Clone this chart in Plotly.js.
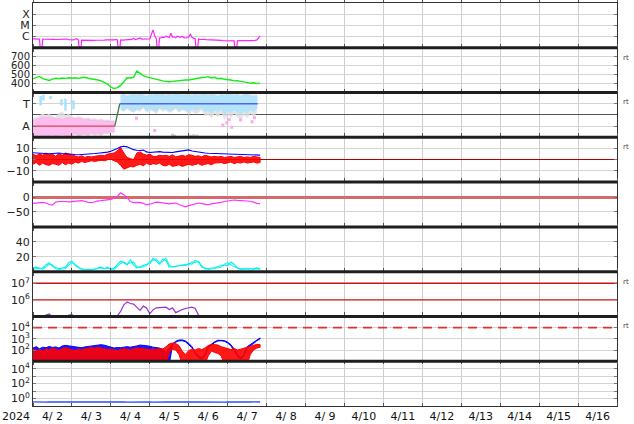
<!DOCTYPE html>
<html><head><meta charset="utf-8">
<script src="https://cdn.plot.ly/plotly-3.0.1.min.js"></script>
<style>html,body{margin:0;padding:0;background:#fff}#chart{width:634px;height:424px}</style>
</head><body><div id="chart"></div>
<script>
// ---------- time helpers (hours since 2024-04-02 00:00 UT) ----------
const START = Date.UTC(2024, 3, 2);
function t(h){ return new Date(START + h*3600000).toISOString().slice(0,19).replace('T',' '); }
const HOURS_1H = Array.from({length:141}, (_, i) => i);        // hourly grid 0..140 h
const HOURS_2H = Array.from({length:71}, (_, i) => 2*i);       // 2-hour grid 0..140 h

// ---------- panel 1: X-ray flux (W/m2), hourly ----------
const xrayFlux = [
 6.2e-7,6.0e-7,6.3e-7,6.1e-7,6.0e-7,1e-8,5.9e-7,5.8e-7,5.9e-7,5.7e-7,
 5.8e-7,5.6e-7,5.7e-7,5.6e-7,5.5e-7,5.6e-7,5.4e-7,5.5e-7,5.3e-7,5.4e-7,
 5.3e-7,6.0e-7,5.2e-7,5.1e-7,5.2e-7,5.0e-7,5.8e-7,6.5e-7,5.0e-7,1e-8,
 4.8e-7,4.7e-7,4.8e-7,4.6e-7,4.7e-7,4.6e-7,4.7e-7,4.5e-7,4.6e-7,4.7e-7,
 4.6e-7,4.8e-7,4.7e-7,4.9e-7,4.8e-7,5.0e-7,4.9e-7,5.1e-7,5.0e-7,5.2e-7,
 5.1e-7,5.3e-7,5.2e-7,1e-8,5.0e-7,4.9e-7,5.1e-7,5.0e-7,5.4e-7,5.8e-7,
 5.2e-7,5.6e-7,7.0e-7,5.5e-7,6.0e-7,6.8e-7,7.5e-7,6.0e-7,6.2e-7,5.9e-7,
 6.1e-7,6.0e-7,6.3e-7,1.6e-6,4.0e-6,1.2e-6,7.0e-7,1e-8,7.5e-7,8.0e-7,
 9.0e-7,8.5e-7,1.1e-6,9.5e-7,8.5e-7,2.0e-6,9.0e-7,9.5e-7,8.0e-7,1.1e-6,
 9.0e-7,8.5e-7,1.05e-6,8.0e-7,7.5e-7,8.0e-7,9.0e-7,1.7e-6,8.5e-7,7.0e-7,
 6.5e-7,1e-8,6.0e-7,5.5e-7,5.8e-7,5.4e-7,5.6e-7,5.2e-7,5.5e-7,5.0e-7,
 5.0e-7,4.8e-7,4.7e-7,4.6e-7,4.6e-7,4.5e-7,4.5e-7,4.4e-7,4.4e-7,4.3e-7,
 4.3e-7,4.4e-7,4.3e-7,4.3e-7,4.2e-7,1e-8,4.2e-7,4.3e-7,4.2e-7,4.3e-7,
 4.3e-7,4.2e-7,4.4e-7,4.3e-7,4.4e-7,4.3e-7,4.5e-7,4.6e-7,5.0e-7,7.0e-7,
 1.1e-6];
const xrayTickVals = [1e-6, 1e-5, 1e-4];
const xrayTickText = ['C', 'M', 'X'];

// ---------- panel 2: solar wind speed (km/s), 2-hourly ----------
const windSpeed = [
 455,470,480,455,445,435,450,460,455,462,
 458,465,460,465,458,462,470,460,455,445,
 440,430,410,395,360,345,355,380,420,465,
 462,470,540,510,490,475,465,462,450,440,
 430,425,420,425,430,428,435,440,440,448,
 455,460,468,470,478,462,470,455,460,448,
 445,440,430,432,425,420,412,405,410,400,405];
const speedTickVals = [400, 500, 600, 700];

// ---------- panel 3: IMF sector (A = -1, T = +1) ----------
const sectorHours = [0, 50.4, 53.5, 138.5];
const sectorPolarity = [-1, -1, 1, 1];
const sectorTickVals = [-1, 1];
const sectorTickText = ['A', 'T'];
const earlyHours = HOURS_2H.slice(0, 26);   // 0..50 h
const pinkHi = [-0.5,-0.4,-0.3,-0.2,-0.25,-0.2,-0.3,-0.35,-0.3,-0.4,
 -0.3,-0.25,-0.3,-0.35,-0.3,-0.4,-0.45,-0.4,-0.5,-0.45,-0.55,-0.5,-0.6,-0.55,-0.65,-0.6];
const pinkLo = [-1.8,-1.9,-1.7,-1.85,-1.95,-1.8,-1.75,-1.9,-1.8,-1.7,
 -1.85,-1.9,-1.75,-1.6,-1.8,-1.7,-1.65,-1.8,-1.55,-1.7,-1.6,-1.75,-1.5,-1.6,-1.45,-1.5];
const grayEarlyHi = [-0.3,-0.2,0.0,0.1,0.0,0.1,-0.1,-0.15,0.2,0.3,
 0.0,0.1,-0.1,-0.2,-0.1,-0.2,-0.3,-0.2,-0.35,-0.3,-0.4,-0.3,-0.45,-0.4,-0.5,-0.45];
const grayEarlyLo = [-1.95,-2.0,-1.9,-1.95,-2.0,-1.95,-1.9,-2.0,-1.95,-1.85,
 -1.95,-2.0,-1.9,-1.8,-1.9,-1.85,-1.8,-1.9,-1.75,-1.85,-1.8,-1.9,-1.7,-1.75,-1.6,-1.65];
const lateHours = HOURS_2H.slice(27, 70);   // 54..138 h
const skyHi = [1.7,1.8,1.6,1.75,1.8,1.7,1.85,1.75,1.6,1.8,
 1.7,1.85,1.75,1.8,1.65,1.8,1.7,1.85,1.8,1.7,
 1.75,1.8,1.65,1.8,1.7,1.75,1.85,1.7,1.8,1.75,
 1.6,1.8,1.7,1.85,1.75,1.7,1.8,1.65,1.75,1.8,1.7,1.6,1.7];
const skyLo = [0.6,0.4,0.7,0.5,0.3,0.6,0.5,0.8,0.4,0.6,
 0.5,0.3,0.7,0.5,0.6,0.4,0.5,0.7,0.4,0.6,
 0.5,0.3,0.6,0.4,0.5,0.7,0.3,0.4,0.2,0.5,
 0.3,0.6,0.1,0.4,0.2,0.5,0.3,0.1,0.4,0.2,0.5,0.3,0.6];
const grayLateHi = [1.85,1.9,1.8,1.85,1.9,1.85,1.95,1.9,1.8,1.9,
 1.85,1.95,1.9,1.9,1.85,1.95,1.9,1.95,1.9,1.85,
 1.9,1.95,1.85,1.9,1.85,1.9,1.95,1.85,1.9,1.9,
 1.8,1.9,1.85,1.95,1.9,1.85,1.9,1.8,1.9,1.95,1.85,1.8,1.85];
const grayLateLo = [0.4,0.3,0.5,0.3,0.2,0.4,0.3,0.6,0.2,0.4,
 0.3,0.1,0.5,0.3,0.4,0.2,0.3,0.5,0.2,0.4,
 0.3,0.0,0.3,0.1,0.2,0.4,-0.1,0.0,-0.3,0.1,
 -0.2,0.2,-0.4,0.0,-0.3,0.1,-0.2,-0.5,0.0,-0.3,0.1,-0.2,0.2];
const skySpotHours = [4.7, 6.4, 10.8, 17.5, 20, 23.8, 25];
const skySpotLo = [0.85, 1.3, 1.4, 0.85, 0.4, 1.0, 0.5];
const skySpotHi = [1.7, 1.8, 1.7, 1.4, 1.45, 1.3, 1.3];
const pinkDotHours = [63.8, 75, 87.3, 117, 119.5, 121, 122.5, 128, 135, 136.5];
const pinkDotValues = [-0.3, -1.4, -1.9, -0.9, -0.7, -0.4, -1.1, -0.45, -0.6, -0.25];
const grayDotHours = [86, 97, 99, 101];
const grayDotValues = [-1.8, -1.9, -1.85, -1.9];

// ---------- panel 4: IMF Bt and Bz (nT), 2-hourly ----------
const imfBt = [
 6.2,6,5.5,5.2,5,5.3,5.5,5.8,6,5.6,
 5.2,5,4.8,4.6,4.5,4.6,4.8,5,5.2,5.5,
 5.8,6,6.2,6.8,7.5,8.5,10,11.5,12,11.5,
 10,9,8.5,8.2,8.6,7,6.5,6.8,7,7.2,
 6.8,6.5,6.2,6.5,7,7.5,8,8.4,8.8,7.8,
 7.2,6.8,6.2,6,5.8,5.7,5.5,5.4,5.3,5.1,
 5,4.9,4.8,4.8,4.6,4.5,4.4,4.3,4.2,4.1,4.1];
const imfBzHi = [5,3.5,5.5,4,6,4.5,5,3,5.5,4,6,5,4.5, 3,2.5,3.5,2,3,2.5,3, 3.5,4,3.5,5,5.5,6,
 8,11,6,2,1,0, 6,7,5,4,5,3, 3,4,3.5, 4,3,4.5,2.5,3.5,4,3,4.5, 4,3,3.5,2.5,4,3,2.5,3,
 2.5,3,2,2.5,3,2,2.5,3,2,2.5,2,3,2.5,2];
const imfBzLo = [-4,-2.5,-5,-3,-4.5,-5,-3.5,-4,-5,-2.5,-4.5,-3,-4, -2,-3,-1.5,-2.5,-2,-1,-1.5, -1,-0.5,-1,0,0.5,-1,
 -2,-5,-8.5,-7,-6,-6.5, -5,-4,-5.5,-3,-4.5,-3.5, -4,-3,-5, -5.5,-4,-6,-5,-4.5,-6,-5,-4, -5,-4.5,-3.5,-5,-4,-3.5,-4.5,-3,
 -3,-2.5,-3.5,-3,-2,-3.5,-2.5,-3,-2,-3,-2.5,-2,-3,-2.5];
const imfTickVals = [-10, 0, 10];
const imfTickText = ['\u221210', '0', '10'];

// ---------- panel 5: Dst (nT), 2-hourly ----------
const dstIndex = [
 -21,-20,-19,-18,-20,-25,-27,-17,-15,-14,
 -15,-16,-15,-14,-13,-12,-14,-18,-19,-15,
 -13,-12,-11,-9,-8,-4,2,14,8,-2,
 -15,-19,-18,-18,-21,-26,-24,-20,-17,-18,
 -19,-22,-23,-21,-20,-25,-30,-33,-29,-26,
 -24,-20,-22,-25,-26,-23,-22,-20,-18,-15,
 -13,-11,-10,-11,-12,-13,-12,-14,-17,-21,-22];
const dstTickVals = [-50, 0];
const dstTickText = ['\u221250', '0'];

// ---------- panel 6: two cyan series, 2-hourly ----------
const cyanA = [
 5,6,4,5,9,12,7,5,4,5,
 6,12,14,8,5,3,2,3,2,4,
 5,6,4,6,3,5,10,14,12,9,
 16,9,5,7,8,10,11,18,14,10,
 17,15,6,7,8,9,9,8,11,10,
 15,13,6,5,4,5,5,7,8,9,
 8,13,10,5,4,4,3,3,4,5,4];
const cyanB = [
 3,4,5,3,6,10,9,4,3,4,
 4,9,12,10,6,4,3,2,3,3,
 4,5,5,4,4,3,7,11,13,10,
 12,13,7,5,7,8,13,15,17,12,
 14,18,9,6,7,7,8,10,9,13,
 12,14,8,4,3,4,4,5,6,10,
 12,9,7,4,3,3,4,2,3,4,3];
const cyanTickVals = [20, 40];

// ---------- panel 7: electron flux, 2-hourly ----------
const electronFlux = [
 9e4,8e4,9e4,9.5e4,1.2e5,1.4e5,9e4,8e4,1.15e5,9e4,
 8e4,1.2e5,1.3e5,9e4,8e4,1.1e5,9e4,8e4,9e4,1.1e5,
 9e4,8e4,8e4,9e4,8e4,9e4,1.1e5,2.0e5,5.0e5,7.5e5,
 6.0e5,5.5e5,3.6e5,2.3e5,4.2e5,3.3e5,1.45e5,2.5e5,3.3e5,3.4e5,
 3.5e5,3.6e5,2.6e5,3.3e5,1.7e5,2.2e5,2.6e5,3.0e5,3.3e5,3.6e5,
 3.0e5,1.2e5,9e4,9e4,8e4,8e4,1.0e5,9e4,8e4,8e4,
 9e4,1.05e5,8e4,8e4,9e4,1.0e5,8e4,8e4,9e4,1.05e5,8e4];
const electronThresholds = [1e6, 1e7];

// ---------- panel 8: two noisy flux series (hi/lo envelopes), 2-hourly ----------
const blueFluxHi = [150,200,130,180,160,210,170,190,150,230, 260,240,200,180,170,160,190,210,230,250,
 280,300,270,230,180,150,170,160,180,200, 180,190,230,280,260,250,220,180,170,150,
 120,60,150,350,600,780,800,650,400,200, 60,30,20,40,200,350,550,750,780,700,
 500,300,120,40,20,40,200,300,450,800,1200];
const blueFluxLo = [5,5,5,5,5,5,5,5,5,5, 5,5,5,5,5,5,5,5,5,5,
 5,5,5,5,5,5,5,5,5,5, 5,5,5,5,5,5,5,5,5,5,
 5,5,5,290,510,660,680,540,320,160, 45,22,15,30,160,290,460,640,680,600,
 420,240,90,30,15,30,160,250,380,680,1000];
const redFluxHi = [120,90,110,80,130,100,150,120,90,140, 160,130,110,90,120,100,130,150,170,140,
 180,150,130,110,120,100,90,110,130,120, 100,140,160,130,150,120,100,130,110,140,
 120,200,350,420,380,250,80,40,90,120, 100,140,110,150,250,320,300,280,200,160,
 130,110,140,100,120,150,180,220,280,320,300];
const redFluxLo = [5,5,5,5,5,5,5,5,5,5, 5,5,5,5,5,5,5,5,5,5,
 5,5,5,5,5,5,5,5,5,5, 5,5,5,5,5,5,5,5,5,5,
 5,5,60,120,100,40,5,3,5,5, 5,5,5,5,30,80,60,50,30,5,
 5,5,5,5,5,5,5,40,100,150,180];
const protonThreshold = [1e4];

// ---------- panel 9: low flux series, 2-hourly ----------
const lowFlux = [0.36,0.34,0.35,0.37,0.33,0.35,0.36,0.34,0.35,0.33, 0.34,0.36,0.35,0.34,0.33,0.35,0.36,0.34,0.35,0.33,
 0.34,0.35,0.36,0.34,0.33,0.35,0.34,0.36,0.35,0.33, 0.34,0.35,0.33,0.34,0.36,0.35,0.34,0.33,0.35,0.34,
 0.36,0.35,0.34,0.33,0.35,0.34,0.36,0.35,0.33,0.34, 0.35,0.34,0.36,0.35,0.33,0.34,0.35,0.36,0.34,0.33,
 0.35,0.34,0.36,0.35,0.34,0.33,0.35,0.34,0.36,0.35,0.34];

const sup = n => '10<sup>' + n + '</sup>';

// ---------- build traces ----------
const FULL = [t(0), t(360)];
function line(hours, vals, ya, color, width){
  return {x: hours.map(t), y: vals, xaxis:'x', yaxis: ya, mode:'lines',
          line:{color: color, width: width || 1.2}, hoverinfo:'skip', showlegend:false};
}
// filled envelope between hi and lo, edged with the series colour
function band(hours, hi, lo, ya, fill, edge){
  return {x: hours.concat(hours.slice().reverse()).map(t), y: hi.concat(lo.slice().reverse()),
          xaxis:'x', yaxis: ya, mode:'lines', fill:'toself', fillcolor: fill,
          line:{color: edge || 'rgba(0,0,0,0)', width: edge ? 1 : 0}, hoverinfo:'skip', showlegend:false};
}
function segments(hours, lo, hi, ya, color, width){
  const xs = [], ys = [];
  hours.forEach((h, i) => { xs.push(t(h), t(h), null); ys.push(lo[i], hi[i], null); });
  return {x: xs, y: ys, xaxis:'x', yaxis: ya, mode:'lines', line:{color: color, width: width},
          hoverinfo:'skip', showlegend:false};
}
function level(v, ya, color, width, dash){
  return {x: FULL, y: [v, v], xaxis:'x', yaxis: ya, mode:'lines',
          line:{color: color, width: width, dash: dash || 'solid'}, hoverinfo:'skip', showlegend:false};
}

const traces = [
  line(HOURS_1H, xrayFlux, 'y', '#ff22ff', 1.2),
  line(HOURS_2H, windSpeed, 'y2', '#11ee11', 1.4),
  band(earlyHours, grayEarlyHi, grayEarlyLo, 'y3', 'rgba(222,222,222,0.85)'),
  band(earlyHours, pinkHi, pinkLo, 'y3', 'rgba(255,185,240,0.9)', '#ffb0ee'),
  band(lateHours, grayLateHi, grayLateLo, 'y3', 'rgba(222,222,222,0.85)'),
  band(lateHours, skyHi, skyLo, 'y3', 'rgba(172,228,255,0.9)', '#a8e2ff'),
  segments(skySpotHours, skySpotLo, skySpotHi, 'y3', '#a8e2ff', 2.5),
  {x: pinkDotHours.map(t), y: pinkDotValues, xaxis:'x', yaxis:'y3', mode:'markers',
   marker:{symbol:'square', size:3, color:'#ffa8ec'}, hoverinfo:'skip', showlegend:false},
  {x: grayDotHours.map(t), y: grayDotValues, xaxis:'x', yaxis:'y3', mode:'markers',
   marker:{symbol:'square', size:3, color:'#cfcfcf'}, hoverinfo:'skip', showlegend:false},
  line(sectorHours.slice(0,2), sectorPolarity.slice(0,2), 'y3', '#e0405a', 1.3),
  line(sectorHours.slice(1,3), sectorPolarity.slice(1,3), 'y3', '#3f7a4a', 1.3),
  line(sectorHours.slice(2,4), sectorPolarity.slice(2,4), 'y3', '#5565ee', 1.3),
  band(HOURS_2H, imfBzHi, imfBzLo, 'y4', 'rgba(255,0,0,0.9)', '#ff0000'),
  line(HOURS_2H, imfBt, 'y4', '#0000ff', 1.1),
  line(HOURS_2H, dstIndex, 'y5', '#ff33ff', 1.2),
  line(HOURS_2H, cyanB, 'y6', '#22f4f4', 1.1),
  line(HOURS_2H, cyanA, 'y6', '#00eeee', 1.1),
  level(electronThresholds[0], 'y7', '#cc1111', 1.4),
  level(electronThresholds[1], 'y7', '#cc1111', 1.4),
  line(HOURS_2H, electronFlux, 'y7', '#9a30d0', 1.2),
  level(protonThreshold[0], 'y8', '#dd3333', 1.6, '9px,6px'),
  band(HOURS_2H, blueFluxHi, blueFluxLo, 'y8', 'rgba(0,0,255,0.9)', '#0000ff'),
  band(HOURS_2H, redFluxHi, redFluxLo, 'y8', 'rgba(255,0,0,0.9)', '#ff0000'),
  line(HOURS_2H, lowFlux, 'y9', '#2a4cff', 1.4)
];

// ---------- axes ----------
const FONT = 'DejaVu Sans, sans-serif';
function yax(i, extra){
  const top = 1 - i/9, bottom = 1 - (i+1)/9;
  return Object.assign({domain:[bottom, top], anchor:'x', showgrid:true, gridcolor:'#d4d4d4',
    gridwidth:1, zeroline:false, showline:true, linecolor:'#333', linewidth:1, mirror:'ticks',
    ticks:'inside', ticklen:3, tickcolor:'#777', tickfont:{family:FONT, size:11, color:'#222'},
    fixedrange:true}, extra);
}

const layout = {
  width:634, height:424, margin:{l:33, r:17, t:3, b:18, pad:0},
  paper_bgcolor:'#fff', plot_bgcolor:'#fff', showlegend:false,
  font:{family:FONT, size:11, color:'#222'},
  xaxis:{type:'date', range:FULL, anchor:'y9', tickmode:'linear', tick0:t(0), dtick:86400000,
    tickformat:'%-m/%e', ticklabelmode:'period', showgrid:true, gridcolor:'#cfcfcf', gridwidth:1,
    ticks:'inside', ticklen:3, tickcolor:'#555', showline:true, linecolor:'#333', linewidth:1,
    mirror:'allticks', zeroline:false, tickfont:{family:FONT, size:11, color:'#111'}, fixedrange:true},
  yaxis: yax(0, {type:'log', range:[-7,-3], tickmode:'array', tickvals:xrayTickVals, ticktext:xrayTickText}),
  yaxis2: yax(1, {range:[300,800], tickmode:'array', tickvals:speedTickVals,
    tickfont:{family:FONT, size:10, color:'#222'}}),
  yaxis3: yax(2, {range:[-2,2], tickmode:'array', tickvals:sectorTickVals, ticktext:sectorTickText,
    zeroline:true, zerolinecolor:'#555', zerolinewidth:1}),
  yaxis4: yax(3, {range:[-20,20], tickmode:'array', tickvals:imfTickVals, ticktext:imfTickText,
    zeroline:true, zerolinecolor:'#b00000', zerolinewidth:1.3}),
  yaxis5: yax(4, {range:[-100,50], tickmode:'array', tickvals:dstTickVals, ticktext:dstTickText,
    zeroline:true, zerolinecolor:'#d46a6a', zerolinewidth:3}),
  yaxis6: yax(5, {range:[0,60], tickmode:'array', tickvals:cyanTickVals}),
  yaxis7: yax(6, {type:'log', range:[5, Math.log10(5e7)], tickmode:'array', tickvals:[1e6,1e7],
    ticktext:[sup(6), sup(7)], showgrid:false}),
  yaxis8: yax(7, {type:'log', range:[1,5], tickmode:'array', tickvals:[1e2,1e3,1e4],
    ticktext:[sup(2), sup(3), sup(4)]}),
  yaxis9: yax(8, {type:'log', range:[-1,5], tickmode:'array', tickvals:[1,100,1e4],
    ticktext:[sup(0), sup(2), sup(4)],
    minor:{tickmode:'array', tickvals:[10,1e3], showgrid:true, gridcolor:'#d4d4d4', ticks:'inside', ticklen:3, tickcolor:'#777'}}),
  shapes: [1,2,3,4,5,6,7,8].map(k => ({type:'line', xref:'paper', yref:'paper', x0:0, x1:1,
    y0:k/9, y1:k/9, line:{color:'#1e1e1e', width:3}, layer:'above'})),
  annotations: [
    {xref:'paper', yref:'paper', x:0, y:0, xanchor:'right', yanchor:'top', xshift:-1, yshift:-2,
     text:'2024', showarrow:false, font:{family:FONT, size:11, color:'#111'}}
  ].concat(['y2','y3','y4','y7','y8'].map(a => ({xref:'paper', yref:a+' domain', x:1, y:0.78,
     xanchor:'left', yanchor:'middle', xshift:4, text:'rt', showarrow:false,
     font:{family:FONT, size:7, color:'#444'}})))
};

Plotly.newPlot('chart', traces, layout, {staticPlot:true, displayModeBar:false});
</script>
</body></html>
